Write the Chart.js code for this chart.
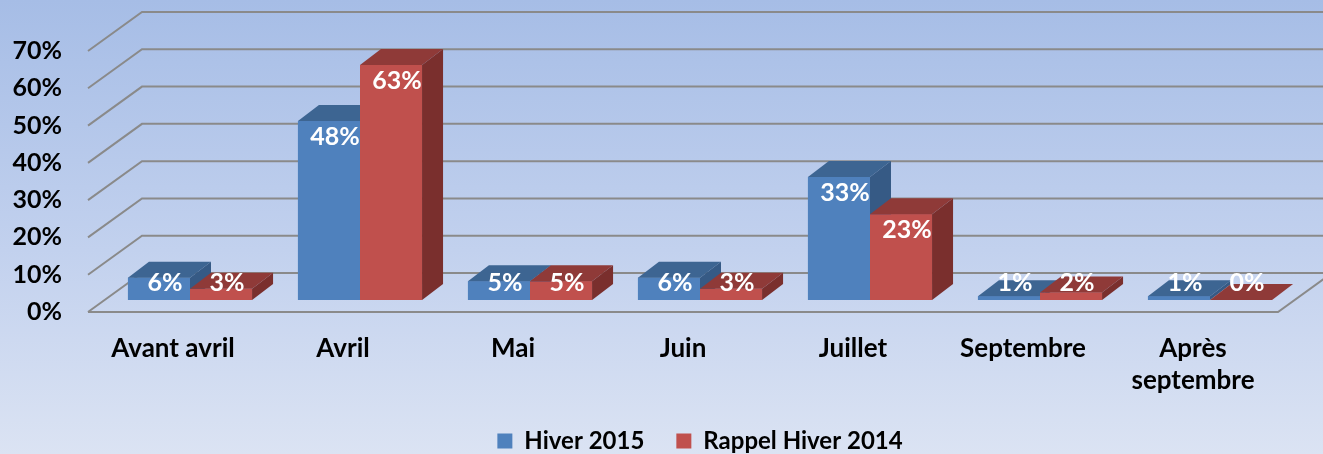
<!DOCTYPE html>
<html lang="fr">
<head>
<meta charset="UTF-8">
<title>Hiver 2015 / Rappel Hiver 2014</title>
<script src="https://cdn.jsdelivr.net/npm/chart.js"></script>
<style>
  html, body { margin: 0; padding: 0; }
  body {
    width: 1323px; height: 454px; overflow: hidden;
    background: linear-gradient(to bottom, #a6bde6 0%, #c2d1ee 55%, #dbe3f3 100%);
  }
</style>
</head>
<body>
<canvas id="chart" width="1323" height="454"></canvas>
<script>
const categories = ['Avant avril', 'Avril', 'Mai', 'Juin', 'Juillet', 'Septembre', ['Après', 'septembre']];
const hiver2015 = [6, 48, 5, 6, 33, 1, 1];
const rappelHiver2014 = [3, 63, 5, 3, 23, 2, 0];
const seriesNames = ['Hiver 2015', 'Rappel Hiver 2014'];

// front / top / side colours of each series
const faces = [
  { front: '#4f81bd', top: '#3d6592', side: '#365a85' },
  { front: '#c0504d', top: '#8f3a38', side: '#7a2f2d' }
];

const xFont = { family: 'Lato', weight: 'bold', size: 26, lineHeight: 1.23 };
const yFont = { family: 'Lato', weight: 'bold', size: 25 };
const legendFont = { family: 'Lato', weight: 'bold', size: 24 };

// depth of the bars and of the floor/back wall
const BAR_DX = 21, BAR_DY = -16;
const FRONT = { x: -17, y: 12 }, BACK = { x: 37, y: -27 };

const threeD = {
  id: 'threeD',
  beforeDatasetsDraw(chart) {
    const { ctx, chartArea: a, scales: { y } } = chart;
    ctx.save();
    ctx.strokeStyle = '#8a8a8a';
    ctx.lineWidth = 2;
    y.ticks.forEach(t => {
      const py = y.getPixelForValue(t.value);
      ctx.beginPath();
      ctx.moveTo(a.left + FRONT.x, py + FRONT.y);
      ctx.lineTo(a.left + BACK.x, py + BACK.y);
      ctx.lineTo(chart.width, py + BACK.y);
      ctx.stroke();
    });
    const p0 = y.getPixelForValue(0);
    ctx.beginPath();
    ctx.moveTo(a.left + FRONT.x, p0 + FRONT.y);
    ctx.lineTo(a.right + FRONT.x, p0 + FRONT.y);
    ctx.lineTo(a.right + BACK.x, p0 + BACK.y);
    ctx.stroke();
    ctx.restore();
  },
  afterDatasetsDraw(chart) {
    const ctx = chart.ctx;
    const n = chart.data.labels.length;
    ctx.save();
    for (let i = 0; i < n; i++) {
      chart.data.datasets.forEach((ds, d) => {
        const el = chart.getDatasetMeta(d).data[i];
        const { x, y, base, width } = el.getProps(['x', 'y', 'base', 'width'], true);
        const l = x - width / 2, r = x + width / 2;
        const c = faces[d];
        ctx.fillStyle = c.front;
        ctx.fillRect(l, y, width, base - y);
        ctx.fillStyle = c.top;
        ctx.beginPath();
        ctx.moveTo(l, y); ctx.lineTo(r, y);
        ctx.lineTo(r + BAR_DX, y + BAR_DY); ctx.lineTo(l + BAR_DX, y + BAR_DY);
        ctx.closePath(); ctx.fill();
        ctx.fillStyle = c.side;
        ctx.beginPath();
        ctx.moveTo(r, y); ctx.lineTo(r + BAR_DX, y + BAR_DY);
        ctx.lineTo(r + BAR_DX, base + BAR_DY); ctx.lineTo(r, base);
        ctx.closePath(); ctx.fill();
      });
    }
    // value labels
    ctx.font = 'bold 25px Lato';
    ctx.fillStyle = '#ffffff';
    ctx.textAlign = 'center';
    ctx.textBaseline = 'middle';
    chart.data.datasets.forEach((ds, d) => {
      chart.getDatasetMeta(d).data.forEach((el, i) => {
        const { x, y } = el.getProps(['x', 'y'], true);
        ctx.fillText(ds.data[i] + '%', x + 6, Math.min(y + 16, 283));
      });
    });
    ctx.restore();
  }
};

new Chart(document.getElementById('chart'), {
  type: 'bar',
  data: {
    labels: categories,
    datasets: [
      { label: seriesNames[0], data: hiver2015, backgroundColor: faces[0].front, borderWidth: 0 },
      { label: seriesNames[1], data: rappelHiver2014, backgroundColor: faces[1].front, borderWidth: 0 }
    ]
  },
  options: {
    responsive: false,
    animation: false,
    categoryPercentage: 0.73,
    barPercentage: 1,
    layout: { padding: { top: 39, right: 28, bottom: -9, left: 0 } },
    plugins: {
      tooltip: { enabled: false },
      legend: {
        position: 'bottom',
        fullSize: false,
        labels: { font: legendFont, color: '#000', boxWidth: 15, boxHeight: 15, padding: 32 }
      }
    },
    scales: {
      x: {
        grid: { display: false, drawTicks: false },
        border: { display: false },
        ticks: { font: xFont, color: '#000', padding: 33, labelOffset: -17, maxRotation: 0, autoSkip: false },
        afterFit(s) { s.height = 97; }
      },
      y: {
        min: 0, max: 70,
        grid: { display: false, drawTicks: false },
        border: { display: false },
        ticks: { stepSize: 10, autoSkip: false, font: yFont, color: '#000', padding: 43, labelOffset: 12, callback: v => v + '%' },
        afterFit(s) { s.width = 105; s.paddingTop = 0; s.paddingBottom = 0; }
      }
    }
  },
  plugins: [threeD]
});
</script>
</body>
</html>
